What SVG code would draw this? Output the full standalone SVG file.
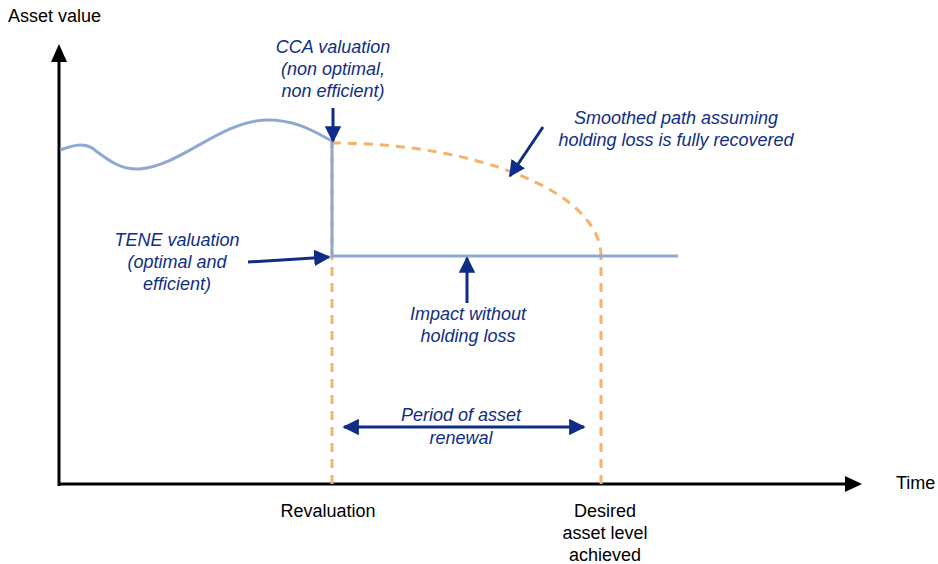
<svg xmlns="http://www.w3.org/2000/svg" width="938" height="564" viewBox="0 0 938 564">
<defs>
<style>
.ax{font-family:"Liberation Sans",Arial,sans-serif;font-size:18px;fill:#000}
.lb{font-family:"Liberation Sans",Arial,sans-serif;font-size:18px;font-style:italic;fill:#0f2d86;text-anchor:middle}
.bk{font-family:"Liberation Sans",Arial,sans-serif;font-size:18px;fill:#000;text-anchor:middle}
.axis{stroke:#000;stroke-width:3;fill:none}
.val{stroke:#8ea8d2;stroke-width:3;fill:none}
.dash{stroke:#f6b266;stroke-width:3;fill:none;stroke-dasharray:9 7}
.arr{stroke:#0f2d86;stroke-width:3;fill:none}
</style>
<marker id="ah" viewBox="0 0 10 10" refX="9" refY="5" markerWidth="5.5" markerHeight="5.5" orient="auto" markerUnits="strokeWidth">
<path d="M0,0 L10,5 L0,10 z" fill="#0f2d86"/>
</marker>
<marker id="ahs" viewBox="0 0 10 10" refX="1" refY="5" markerWidth="5.5" markerHeight="5.5" orient="auto" markerUnits="strokeWidth">
<path d="M10,0 L0,5 L10,10 z" fill="#0f2d86"/>
</marker>
</defs>
<g id="axes">
<line class="axis" x1="59" y1="486" x2="59" y2="60"/>
<path d="M51,62 L59,44 L67,62 z" fill="#000"/>
<line class="axis" x1="58" y1="484" x2="846" y2="484"/>
<path d="M845,476 L862,484 L845,492 z" fill="#000"/>
<text class="ax" x="8" y="22">Asset value</text>
<text class="ax" x="896" y="489">Time</text>
</g>
<g id="curves">
<path class="dash" d="M332,484 L332,143"/>
<path class="dash" d="M601,484 L601,256"/>
<path class="dash" d="M332,143 A269,113 0 0 1 601,256"/>
<path class="val" d="M60,150 C72,146 82,142 92,148 C108,160 120,170 140,169 C180,166 220,122 265,120 C295,119 315,132 332,141 L332,256 L678,256"/>
</g>
<g id="connectors">
<line class="arr" x1="333" y1="108" x2="333" y2="141" marker-end="url(#ah)"/>
<line class="arr" x1="248" y1="262" x2="329" y2="257" marker-end="url(#ah)"/>
<line class="arr" x1="543" y1="127" x2="510" y2="176" marker-end="url(#ah)"/>
<line class="arr" x1="467" y1="303" x2="467" y2="258" marker-end="url(#ah)"/>
<line class="arr" x1="344" y1="427" x2="584" y2="427" marker-start="url(#ahs)" marker-end="url(#ah)"/>
</g>
<g id="cca">
<text class="lb" x="333" y="53">CCA valuation</text>
<text class="lb" x="333" y="75">(non optimal,</text>
<text class="lb" x="333" y="97">non efficient)</text>
</g>
<g id="smoothed">
<text class="lb" x="676" y="124">Smoothed path assuming</text>
<text class="lb" x="676" y="146">holding loss is fully recovered</text>
</g>
<g id="tene">
<text class="lb" x="177" y="246">TENE valuation</text>
<text class="lb" x="177" y="268">(optimal and</text>
<text class="lb" x="177" y="290">efficient)</text>
</g>
<g id="impact">
<text class="lb" x="468" y="320">Impact without</text>
<text class="lb" x="468" y="342">holding loss</text>
</g>
<g id="period">
<text class="lb" x="461" y="421">Period of asset</text>
<text class="lb" x="461" y="444">renewal</text>
</g>
<g id="revaluation">
<text class="bk" x="328" y="517">Revaluation</text>
</g>
<g id="desired">
<text class="bk" x="605" y="517">Desired</text>
<text class="bk" x="605" y="539">asset level</text>
<text class="bk" x="605" y="561">achieved</text>
</g>
</svg>
